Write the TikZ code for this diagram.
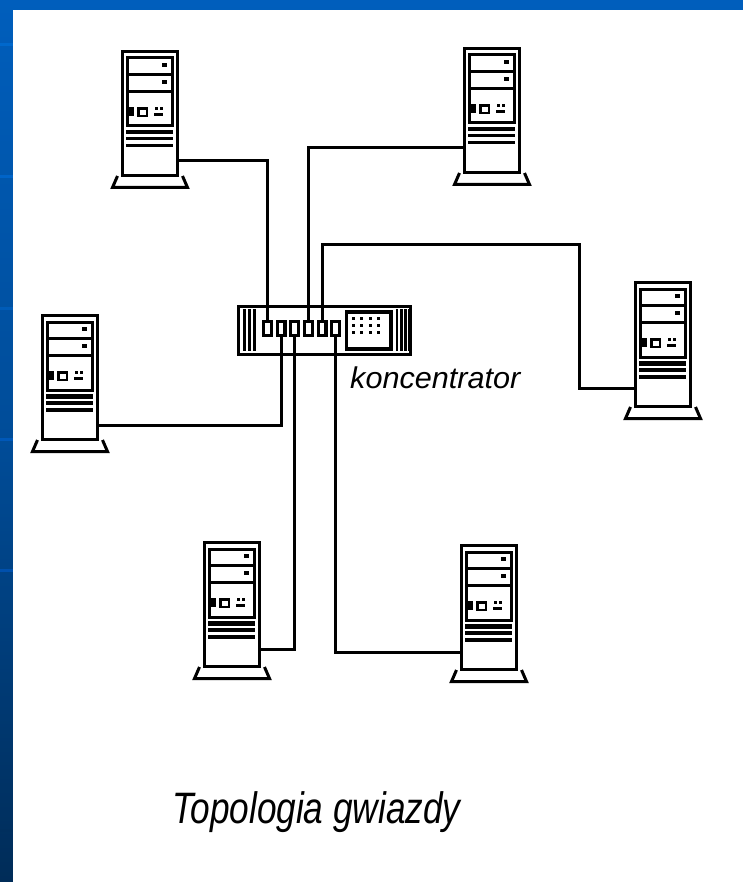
\documentclass[tikz,border=0pt]{standalone}
\usepackage{graphicx}
\usepackage{fontspec}
\setmainfont{Liberation Sans}
\definecolor{topblue}{HTML}{005EBC}
\definecolor{midblue}{HTML}{004C98}
\definecolor{botblue}{HTML}{002C58}
\tikzset{
  x=1pt,y=-1pt,
  wall/.style={draw=black,line width=3pt,fill=white,line join=miter},
  wire/.style={draw=black,line width=3pt,line join=miter},
  ink/.style={fill=black,draw=none},
  portbox/.style={draw=black,line width=3.2pt,fill=white,minimum width=7.8pt,minimum height=13.5pt,inner sep=0pt,outer sep=0pt},
  caption/.style={anchor=base west,inner sep=0pt,text=black}
}
% #1 name prefix, #2 dx, #3 dy (measured from the first server at body left 121, top 50)
\newcommand{\serverpc}[3]{%
  \begin{scope}[shift={(#2,#3)}]
    \path[wall,fill=white,draw=none] (117,176) -- (111,188) -- (189,188) -- (183,176) -- cycle;
    \path[wall,line width=3pt] (117.5,176) -- (112.5,187.5) -- (187.5,187.5) -- (182.5,176);
    \path[wall] (122.5,51.5) rectangle (177.5,175.5);
    \path[wall] (127.5,58) rectangle (172.5,126);
    \path[ink] (127,73) rectangle (172.5,76);
    \path[ink] (127,90) rectangle (172.5,93);
    \path[ink] (162,63) rectangle (167,67);
    \path[ink] (162,80) rectangle (167,84);
    \path[ink] (127,107) rectangle (133.5,116);
    \path[draw=black,line width=2.8pt,fill=white] (138.5,108.5) rectangle (147,116);
    \path[ink] (155,107) rectangle (158,110);
    \path[ink] (160,107) rectangle (163,110);
    \path[ink] (154,113) rectangle (163,116);
    \path[ink] (126,130) rectangle (173,134.5);
    \path[ink] (126,137) rectangle (173,140.5);
    \path[ink] (126,144) rectangle (173,147.5);
  \end{scope}}
\begin{document}
\begin{tikzpicture}
\useasboundingbox (0,0) rectangle (743,882);
% slide background
\shade[top color=topblue,bottom color=midblue] (0,0) rectangle (743,441);
\shade[top color=midblue,bottom color=botblue] (0,441) rectangle (743,882);
\fill[white] (13,10) rectangle (743,882);
\foreach \yy/\cc in {45/0068CC,177/0064C8,308/005CB8,439/0058B8,570/0050AC,830/002F5E}{
  \definecolor{bandc}{HTML}{\cc}
  \fill[bandc] (0,\yy-1.5) rectangle (13,\yy+1.5);
}
% servers
\serverpc{sa}{0}{0}
\serverpc{sb}{342}{-3}
\serverpc{sc}{513}{231}
\serverpc{sd}{-80}{264}
\serverpc{se}{82}{491}
\serverpc{sf}{339}{494}
% hub
\path[wall] (238.5,306.5) rectangle (410.5,354.5);
\foreach \xx in {244.5,249.5,254.5}{\path[ink] (\xx-1.4,309) rectangle (\xx+1.4,351);}
\foreach \xx in {397,401.5,405.5,409}{\path[ink] (\xx-1.1,309) rectangle (\xx+1.1,351);}
\path[wall,line width=3.4pt] (346.5,312) rectangle (391,349);
\foreach \xx in {353,361.5,370,378}{\foreach \yy in {318,325,332}{
  \path[ink] (\xx-1.5,\yy-1.5) rectangle (\xx+1.5,\yy+1.5);}}
% ports
\foreach \nn/\xx in {a/267.7,b/281,c/294.5,d/308.5,e/322,f/335.5}{
  \node[portbox] (p\nn) at (\xx,328.5) {};
}
% connector free ends
\coordinate (saw) at (178,161);
\coordinate (sbw) at (463,148);
\coordinate (scw) at (634,388);
\coordinate (scu) at (579,245);
\coordinate (sdw) at (99,425);
\coordinate (sew) at (261,649);
\coordinate (sfw) at (460,652);
% connectors
\draw[wire] (saw) -| (pa.north);
\draw[wire] (sbw) -| (pd.north);
\draw[wire] (scw) -| (scu) -| (pe.north);
\draw[wire] (sdw) -| (pb.south);
\draw[wire] (sew) -| (pc.south);
\draw[wire] (sfw) -| (pf.south);
% labels
\node[caption,font=\itshape\fontsize{30}{32}\selectfont] (lab) at (350,388) {\scalebox{1.02}[1]{koncentrator}};
\node[caption,font=\itshape\fontsize{44}{46}\selectfont] (tit) at (172,823) {\scalebox{0.8}[1]{Topologia gwiazdy}};
\end{tikzpicture}
\end{document}
